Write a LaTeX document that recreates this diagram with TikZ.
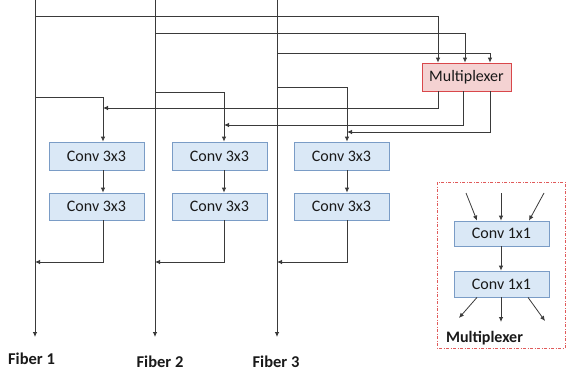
\documentclass[tikz,border=0pt]{standalone}
\usepackage{fontspec}
\setmainfont{Carlito}
\usetikzlibrary{arrows.meta}
\definecolor{boxblue}{HTML}{DAE8F6}
\definecolor{edgeblue}{HTML}{7A9CC6}
\definecolor{muxfill}{HTML}{F4D2D2}
\definecolor{muxedge}{HTML}{D9474B}
\definecolor{dashred}{HTML}{E05A5A}
\definecolor{wire}{HTML}{3A3A3A}
\tikzset{
  convbox/.style={draw=edgeblue, fill=boxblue, line width=0.8pt, minimum width=95pt,
    minimum height=28pt, inner sep=0pt, text=black!90,
    font=\fontsize{16}{19}\selectfont},
  muxbox/.style={convbox, draw=muxedge, fill=muxfill, minimum width=89pt},
  wireline/.style={draw=wire, line width=0.8pt},
  arr/.style={wireline, -{Latex[length=5pt,width=4.5pt]}},
  fiberlabel/.style={font=\fontsize{16.5}{19}\selectfont\bfseries, text=black!90, inner sep=0pt},
}
\begin{document}
\begin{tikzpicture}[x=1pt,y=-1pt]
\useasboundingbox (0,0) rectangle (566,372);

% fibers
\coordinate (f1t) at (35,0);   \coordinate (f1b) at (35,337);
\coordinate (f2t) at (155,0);  \coordinate (f2b) at (155,337);
\coordinate (f3t) at (277,0);  \coordinate (f3b) at (277,337);
\draw[arr] (f1t) -- (f1b);
\draw[arr] (f2t) -- (f2b);
\draw[arr] (f3t) -- (f3b);

\node[fiberlabel] (l1) at (31.5,359) {Fiber 1};
\node[fiberlabel] (l2) at (160,362) {Fiber 2};
\node[fiberlabel] (l3) at (276,362) {Fiber 3};

% multiplexer
\node[muxbox] (mux) at (466.5,77) {Multiplexer};

% conv blocks
\node[convbox] (a1) at (96.5,156) {Conv 3x3};
\node[convbox] (b1) at (219.5,156) {Conv 3x3};
\node[convbox] (c1) at (341.5,156) {Conv 3x3};
\node[convbox, minimum height=27pt] (a2) at (96.5,206.5) {Conv 3x3};
\node[convbox, minimum height=27pt] (b2) at (219.5,206.5) {Conv 3x3};
\node[convbox, minimum height=27pt] (c2) at (341.5,206.5) {Conv 3x3};

% fibers into the multiplexer
\draw[arr] (f1t |- 0,16) -| ([xshift=-28.5pt]mux.north);
\draw[arr] (f2t |- 0,33) -| ([xshift=-1.5pt]mux.north);
\draw[arr] (f3t |- 0,53) -| ([xshift=23.5pt]mux.north);

% fibers into the first conv
\draw[arr] (f1t |- 0,97) -| ([xshift=6.5pt]a1.north);
\draw[arr] (f2t |- 0,92) -| ([xshift=4.5pt]b1.north);
\draw[arr] (f3t |- 0,87) -| ([xshift=5.5pt]c1.north);

% multiplexer outputs
\coordinate (ma) at ([xshift=6.5pt]a1.north |- 0,108);
\coordinate (mb) at ([xshift=4.5pt]b1.north |- 0,125);
\coordinate (mc) at ([xshift=5.5pt]c1.north |- 0,132);
\draw[arr] ([xshift=-28.5pt]mux.south) |- (ma);
\draw[arr] ([xshift=-3.5pt]mux.south) |- (mb);
\draw[arr] ([xshift=23.5pt]mux.south) |- (mc);

% conv to conv
\draw[arr] ([xshift=6.5pt]a1.south) -- ([xshift=6.5pt]a2.north);
\draw[arr] ([xshift=4.5pt]b1.south) -- ([xshift=4.5pt]b2.north);
\draw[arr] ([xshift=5.5pt]c1.south) -- ([xshift=5.5pt]c2.north);

% back to the fibers
\draw[arr] ([xshift=6.5pt]a2.south) |- (f1t |- 0,262);
\draw[arr] ([xshift=4.5pt]b2.south) |- (f2t |- 0,262);
\draw[arr] ([xshift=5.5pt]c2.south) |- (f3t |- 0,262);

% multiplexer detail
\draw[dashred, line width=0.7pt, dash pattern=on 3pt off 1.5pt on 1pt off 1.5pt]
  (437,182) rectangle (565,348);
\node[convbox, minimum height=25pt] (m1) at (501.5,233.5) {Conv 1x1};
\node[convbox, minimum height=26pt] (m2) at (501.5,284) {Conv 1x1};
\coordinate (i1) at (466,193);
\coordinate (i2) at (501,193);
\coordinate (i3) at (544,193);
\draw[arr] (i1) -- ([xshift=-24.5pt]m1.north);
\draw[arr] (i2) -- ([xshift=-0.5pt]m1.north);
\draw[arr] (i3) -- ([xshift=27.5pt]m1.north);
\draw[arr] ([xshift=-0.5pt]m1.south) -- ([xshift=-0.5pt]m2.north);
\coordinate (o1) at (459,318);
\coordinate (o2) at (501,322);
\coordinate (o3) at (545,321);
\draw[arr] ([xshift=-24.5pt]m2.south) -- (o1);
\draw[arr] ([xshift=-0.5pt]m2.south) -- (o2);
\draw[arr] ([xshift=26.5pt]m2.south) -- (o3);
\node[fiberlabel, font=\fontsize{16}{19}\selectfont\bfseries] (mlabel) at (484.5,338) {Multiplexer};
\end{tikzpicture}
\end{document}
